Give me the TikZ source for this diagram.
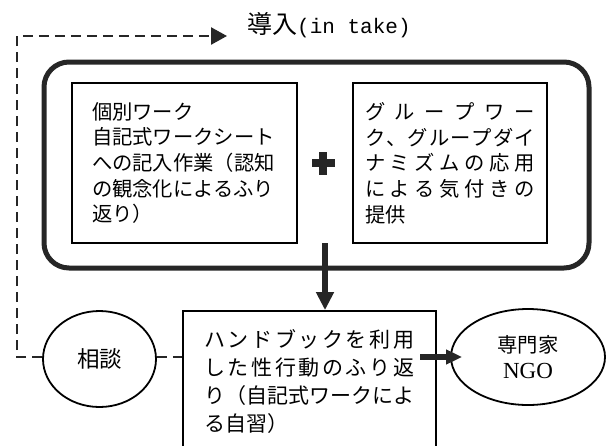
\documentclass[tikz,border=0pt]{standalone}
\usepackage{fontspec}
\setmainfont{Liberation Serif}
\newfontfamily\jp{Noto Sans CJK JP}
\newfontfamily\mono{Liberation Mono}
\usetikzlibrary{arrows.meta,shapes.geometric}
\def\jlEnd{JLEND}
\newcommand\jl[2]{\leavevmode\hbox to #1{\jlA#2\jlEnd}}
\def\jlA#1#2{#1\ifx#2\jlEnd\else\hfill\expandafter\jlA\expandafter#2\fi}
\tikzset{
  framebox/.style={draw=black, line width=1.8pt, rectangle, inner sep=0pt},
  ell/.style={draw=black, ellipse, line width=1.8pt, inner sep=0pt},
  jptext/.style={font=\jp\fontsize{20.3}{25.7}\selectfont},
  bigdown/.style={draw=black!85, line width=6.5pt, -{Triangle[length=18pt,width=17pt]}},
  bigright/.style={draw=black!85, line width=6pt, -{Triangle[length=16pt,width=14pt]}},
  dashline/.style={draw=black!85, line width=2.4pt, dash pattern=on 10pt off 6pt},
  crossfill/.style={fill=black!85},
}
\begin{document}
\begin{tikzpicture}[x=1pt,y=-1pt]
\useasboundingbox (0,0) rectangle (607,445);
\clip (0,0) rectangle (607,445);
% title
\node[anchor=west, inner sep=0pt] (title) at (247,25)
  {{\jp\fontsize{25}{25}\selectfont 導入}{\mono\fontsize{21}{21}\selectfont (in take)}};
% outer rounded box
\node[draw=black!85, line width=5pt, rounded corners=25pt, minimum width=545, minimum height=206, inner sep=0pt] (outer) at (316.5,165) {};
% inner boxes
\node[framebox, jptext, minimum width=225, minimum height=160, text width=185pt, align=left] (lbox) at (184.5,163)
  {個別ワーク\\自記式ワークシート\\への記入作業（認知\\の観念化によるふり\\返り）};
\node[framebox, jptext, minimum width=194, minimum height=160, text width=170pt, align=left] (rbox) at (450,163)
  {\jl{170pt}{グループワー}\\\jl{170pt}{ク、グループダイ}\\\jl{170pt}{ナミズムの応用}\\\jl{170pt}{による気付きの}\\提供};
% plus sign
\coordinate (plus) at (323,163);
\fill[crossfill] ([shift={(-11.5,-4)}]plus) rectangle ++(23,8);
\fill[crossfill] ([shift={(-4,-11.5)}]plus) rectangle ++(8,23);
% bottom box
\node[framebox, minimum width=253, minimum height=168] (hand) at (309.5,395) {};
\node[anchor=west, align=left, inner sep=0pt, font=\jp\fontsize{21}{28}\selectfont] (handtxt) at (204,381)
  {\jl{210pt}{ハンドブックを利用}\\\jl{210pt}{した性行動のふり返}\\\jl{210pt}{り（自記式ワークによ}\\る自習）};
% ellipses
\node[ell, minimum width=113, minimum height=96, font=\jp\fontsize{22.5}{22.5}\selectfont] (soudan) at (99.5,359) {相談};
\node[ell, minimum width=154, minimum height=96, align=center, font=\jp\fontsize{20.3}{26}\selectfont] (ngo) at (528,357)
  {専門家\\{\rmfamily\fontsize{23}{26}\selectfont NGO}};
% arrows
\coordinate (downstart) at (325,243);
\draw[bigdown] (downstart) -- (downstart |- hand.north);
\coordinate (rstart) at (420,357);
\draw[bigright] (rstart) -- ([xshift=12pt]rstart -| ngo.west);
% dashed connectors
\coordinate (c1) at (17,357);
\coordinate (c2) at (17,36);
\coordinate (c3) at (227,36);
\coordinate (sw) at (soudan.west |- c1);
\coordinate (se) at (soudan.east |- c1);
\draw[dashline, -{Triangle[length=16pt,width=17pt]}] (sw) -- (c1) -- (c2) -- (c3);
\draw[dashline] (se) -- (se -| hand.west);
\end{tikzpicture}
\end{document}
